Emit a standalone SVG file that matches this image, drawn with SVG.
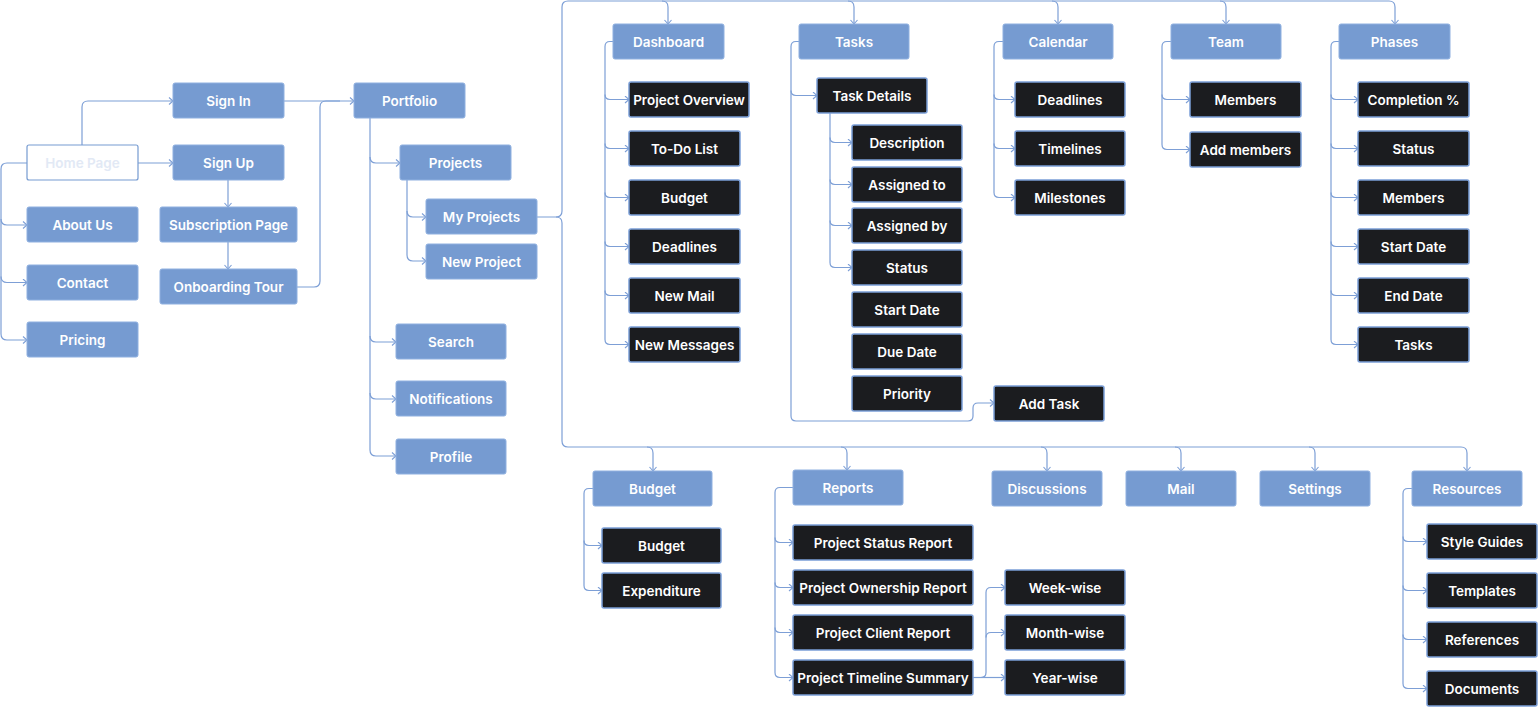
<svg xmlns="http://www.w3.org/2000/svg" width="1538" height="708" viewBox="0 0 1538 708">
<defs>
<style>
.p{fill:#769bd1;stroke:#8fb0e0;stroke-width:1}
.d{fill:#1b1c1f;stroke:#7b9fd8;stroke-width:1.5}
.h{fill:#ffffff;stroke:#769bd1;stroke-width:1.2}
text{font-family:Inter,"Noto Sans","Liberation Sans",sans-serif;font-size:13.5px;font-weight:600;fill:#ffffff;text-anchor:middle;dominant-baseline:central}
.ht{fill:#e2e9f5}
.c path{fill:none;stroke:#7d9fd6;stroke-width:1.2}
.a{marker-end:url(#ar)}
</style>
<marker id="ar" markerWidth="8" markerHeight="10" refX="5" refY="4" orient="auto" markerUnits="userSpaceOnUse">
<path d="M1,0.5 L5,4 L1,7.5" fill="none" stroke="#7d9fd6" stroke-width="1.1"/>
</marker>
</defs>
<rect width="1538" height="708" fill="#ffffff"/>
<g id="connectors" class="c">
<path class="a" d="M82,145 V107 Q82,101 88,101 H173"/>
<path class="a" d="M138,163 H173"/>
<path class="a" d="M27,163 H7 Q1,163 1,169 V334 Q1,340 7,340 H27"/>
<path class="a" d="M1,219 Q1,225 7,225 H27"/>
<path class="a" d="M1,276.5 Q1,282.5 7,282.5 H27"/>
<path class="a" d="M228,180 V207"/>
<path class="a" d="M228,242 V269"/>
<path class="a" d="M284,101 H354"/>
<path d="M297,287 H314 Q320,287 320,281 V107 Q320,101 326,101 H340"/>
<path class="a" d="M370,118 V450 Q370,456 376,456 H396"/>
<path class="a" d="M370,157 Q370,163 376,163 H400"/>
<path class="a" d="M370,336 Q370,342 376,342 H396"/>
<path class="a" d="M370,393 Q370,399 376,399 H396"/>
<path class="a" d="M407,180 V255 Q407,261 413,261 H426"/>
<path class="a" d="M407,211 Q407,217 413,217 H426"/>
<path class="a" d="M537,217 H556 Q562,217 562,211 V7 Q562,1 568,1 H1389 Q1395,1 1395,7 V24"/>
<path class="a" d="M662,1 Q668,1 668,7 V24"/>
<path class="a" d="M848,1 Q854,1 854,7 V24"/>
<path class="a" d="M1052,1 Q1058,1 1058,7 V24"/>
<path class="a" d="M1220,1 Q1226,1 1226,7 V24"/>
<path class="a" d="M556,217 Q562,217 562,223 V441 Q562,447 568,447 H1461 Q1467,447 1467,453 V471"/>
<path class="a" d="M647,447 Q653,447 653,453 V471"/>
<path class="a" d="M841,447 Q847,447 847,453 V470"/>
<path class="a" d="M1041,447 Q1047,447 1047,453 V471"/>
<path class="a" d="M1175,447 Q1181,447 1181,453 V471"/>
<path class="a" d="M1309,447 Q1315,447 1315,453 V471"/>
<path class="a" d="M613,41.5 H610 Q605,41.5 605,46.5 V339.5 Q605,344.5 610,344.5 H629"/>
<path class="a" d="M605,94.5 Q605,99.5 610,99.5 H629"/>
<path class="a" d="M605,143.5 Q605,148.5 610,148.5 H629"/>
<path class="a" d="M605,192.5 Q605,197.5 610,197.5 H629"/>
<path class="a" d="M605,241.5 Q605,246.5 610,246.5 H629"/>
<path class="a" d="M605,290.5 Q605,295.5 610,295.5 H629"/>
<path class="a" d="M799,41.5 H796 Q791,41.5 791,46.5 V416 Q791,421 796,421 H968 Q973,421 973,416 V408 Q973,403 978,403 H994"/>
<path class="a" d="M791,90.5 Q791,95.5 796,95.5 H817"/>
<path class="a" d="M830,113 V262.5 Q830,267.5 835,267.5 H852"/>
<path class="a" d="M830,137.5 Q830,142.5 835,142.5 H852"/>
<path class="a" d="M830,179.5 Q830,184.5 835,184.5 H852"/>
<path class="a" d="M830,220.5 Q830,225.5 835,225.5 H852"/>
<path class="a" d="M1003,41.5 H999 Q994,41.5 994,46.5 V192.5 Q994,197.5 999,197.5 H1015"/>
<path class="a" d="M994,94.5 Q994,99.5 999,99.5 H1015"/>
<path class="a" d="M994,143.5 Q994,148.5 999,148.5 H1015"/>
<path class="a" d="M1171,41.5 H1167 Q1162,41.5 1162,46.5 V144.5 Q1162,149.5 1167,149.5 H1190"/>
<path class="a" d="M1162,94.5 Q1162,99.5 1167,99.5 H1190"/>
<path class="a" d="M1339,41.5 H1336 Q1331,41.5 1331,46.5 V339.5 Q1331,344.5 1336,344.5 H1358"/>
<path class="a" d="M1331,94.5 Q1331,99.5 1336,99.5 H1358"/>
<path class="a" d="M1331,143.5 Q1331,148.5 1336,148.5 H1358"/>
<path class="a" d="M1331,192.5 Q1331,197.5 1336,197.5 H1358"/>
<path class="a" d="M1331,241.5 Q1331,246.5 1336,246.5 H1358"/>
<path class="a" d="M1331,290.5 Q1331,295.5 1336,295.5 H1358"/>
<path class="a" d="M593,488.5 H589 Q584,488.5 584,493.5 V585.5 Q584,590.5 589,590.5 H602"/>
<path class="a" d="M584,540.5 Q584,545.5 589,545.5 H602"/>
<path class="a" d="M793,487.5 H780 Q775,487.5 775,492.5 V672.5 Q775,677.5 780,677.5 H793"/>
<path class="a" d="M775,537.5 Q775,542.5 780,542.5 H793"/>
<path class="a" d="M775,582.5 Q775,587.5 780,587.5 H793"/>
<path class="a" d="M775,627.5 Q775,632.5 780,632.5 H793"/>
<path class="a" d="M973,677.5 H1005"/>
<path class="a" d="M981,677.5 Q986,677.5 986,672.5 V592.5 Q986,587.5 991,587.5 H1005"/>
<path class="a" d="M986,637.5 Q986,632.5 991,632.5 H1005"/>
<path class="a" d="M1412,488.5 H1408 Q1403,488.5 1403,493.5 V683.5 Q1403,688.5 1408,688.5 H1427"/>
<path class="a" d="M1403,536.5 Q1403,541.5 1408,541.5 H1427"/>
<path class="a" d="M1403,585.5 Q1403,590.5 1408,590.5 H1427"/>
<path class="a" d="M1403,634.5 Q1403,639.5 1408,639.5 H1427"/>
</g>
<g id="home-page"><rect class="h" x="27" y="145" width="111" height="35" rx="2"/><text class="ht" x="82.5" y="163">Home Page</text></g>
<g id="sign-in"><rect class="p" x="173" y="83" width="111" height="35" rx="2"/><text x="228.5" y="101">Sign In</text></g>
<g id="sign-up"><rect class="p" x="173" y="145" width="111" height="35" rx="2"/><text x="228.5" y="163">Sign Up</text></g>
<g id="about-us"><rect class="p" x="27" y="207" width="111" height="35" rx="2"/><text x="82.5" y="225">About Us</text></g>
<g id="contact"><rect class="p" x="27" y="265" width="111" height="35" rx="2"/><text x="82.5" y="283">Contact</text></g>
<g id="pricing"><rect class="p" x="27" y="322" width="111" height="35" rx="2"/><text x="82.5" y="340">Pricing</text></g>
<g id="subscription-page"><rect class="p" x="160" y="207" width="137" height="35" rx="2"/><text x="228.5" y="225">Subscription Page</text></g>
<g id="onboarding-tour"><rect class="p" x="160" y="269" width="137" height="35" rx="2"/><text x="228.5" y="287">Onboarding Tour</text></g>
<g id="portfolio"><rect class="p" x="354" y="83" width="111" height="35" rx="2"/><text x="409.5" y="101">Portfolio</text></g>
<g id="projects"><rect class="p" x="400" y="145" width="111" height="35" rx="2"/><text x="455.5" y="163">Projects</text></g>
<g id="my-projects"><rect class="p" x="426" y="199" width="111" height="35" rx="2"/><text x="481.5" y="217">My Projects</text></g>
<g id="new-project"><rect class="p" x="426" y="244" width="111" height="35" rx="2"/><text x="481.5" y="262">New Project</text></g>
<g id="search"><rect class="p" x="396" y="324" width="110" height="35" rx="2"/><text x="451" y="342">Search</text></g>
<g id="notifications"><rect class="p" x="396" y="381" width="110" height="35" rx="2"/><text x="451" y="399">Notifications</text></g>
<g id="profile"><rect class="p" x="396" y="439" width="110" height="35" rx="2"/><text x="451" y="457">Profile</text></g>
<g id="dashboard"><rect class="p" x="613" y="24" width="111" height="35" rx="2"/><text x="668.5" y="42">Dashboard</text></g>
<g id="project-overview"><rect class="d" x="629" y="82" width="120" height="35" rx="2"/><text x="689" y="100">Project Overview</text></g>
<g id="todo-list"><rect class="d" x="629" y="131" width="111" height="35" rx="2"/><text x="684.5" y="149">To-Do List</text></g>
<g id="dash-budget"><rect class="d" x="629" y="180" width="111" height="35" rx="2"/><text x="684.5" y="198">Budget</text></g>
<g id="dash-deadlines"><rect class="d" x="629" y="229" width="111" height="35" rx="2"/><text x="684.5" y="247">Deadlines</text></g>
<g id="new-mail"><rect class="d" x="629" y="278" width="111" height="35" rx="2"/><text x="684.5" y="296">New Mail</text></g>
<g id="new-messages"><rect class="d" x="629" y="327" width="111" height="35" rx="2"/><text x="684.5" y="345">New Messages</text></g>
<g id="tasks"><rect class="p" x="799" y="24" width="110" height="35" rx="2"/><text x="854" y="42">Tasks</text></g>
<g id="task-details"><rect class="d" x="817" y="78" width="110" height="35" rx="2"/><text x="872" y="96">Task Details</text></g>
<g id="description"><rect class="d" x="852" y="125" width="110" height="35" rx="2"/><text x="907" y="143">Description</text></g>
<g id="assigned-to"><rect class="d" x="852" y="167" width="110" height="35" rx="2"/><text x="907" y="185">Assigned to</text></g>
<g id="assigned-by"><rect class="d" x="852" y="208" width="110" height="35" rx="2"/><text x="907" y="226">Assigned by</text></g>
<g id="task-status"><rect class="d" x="852" y="250" width="110" height="35" rx="2"/><text x="907" y="268">Status</text></g>
<g id="task-start-date"><rect class="d" x="852" y="292" width="110" height="35" rx="2"/><text x="907" y="310">Start Date</text></g>
<g id="due-date"><rect class="d" x="852" y="334" width="110" height="35" rx="2"/><text x="907" y="352">Due Date</text></g>
<g id="priority"><rect class="d" x="852" y="376" width="110" height="35" rx="2"/><text x="907" y="394">Priority</text></g>
<g id="add-task"><rect class="d" x="994" y="386" width="110" height="35" rx="2"/><text x="1049" y="404">Add Task</text></g>
<g id="calendar"><rect class="p" x="1003" y="24" width="110" height="35" rx="2"/><text x="1058" y="42">Calendar</text></g>
<g id="cal-deadlines"><rect class="d" x="1015" y="82" width="110" height="35" rx="2"/><text x="1070" y="100">Deadlines</text></g>
<g id="timelines"><rect class="d" x="1015" y="131" width="110" height="35" rx="2"/><text x="1070" y="149">Timelines</text></g>
<g id="milestones"><rect class="d" x="1015" y="180" width="110" height="35" rx="2"/><text x="1070" y="198">Milestones</text></g>
<g id="team"><rect class="p" x="1171" y="24" width="110" height="35" rx="2"/><text x="1226" y="42">Team</text></g>
<g id="team-members"><rect class="d" x="1190" y="82" width="111" height="35" rx="2"/><text x="1245.5" y="100">Members</text></g>
<g id="add-members"><rect class="d" x="1190" y="132" width="111" height="35" rx="2"/><text x="1245.5" y="150">Add members</text></g>
<g id="phases"><rect class="p" x="1339" y="24" width="111" height="35" rx="2"/><text x="1394.5" y="42">Phases</text></g>
<g id="completion"><rect class="d" x="1358" y="82" width="111" height="35" rx="2"/><text x="1413.5" y="100">Completion %</text></g>
<g id="phase-status"><rect class="d" x="1358" y="131" width="111" height="35" rx="2"/><text x="1413.5" y="149">Status</text></g>
<g id="phase-members"><rect class="d" x="1358" y="180" width="111" height="35" rx="2"/><text x="1413.5" y="198">Members</text></g>
<g id="phase-start-date"><rect class="d" x="1358" y="229" width="111" height="35" rx="2"/><text x="1413.5" y="247">Start Date</text></g>
<g id="phase-end-date"><rect class="d" x="1358" y="278" width="111" height="35" rx="2"/><text x="1413.5" y="296">End Date</text></g>
<g id="phase-tasks"><rect class="d" x="1358" y="327" width="111" height="35" rx="2"/><text x="1413.5" y="345">Tasks</text></g>
<g id="budget"><rect class="p" x="593" y="471" width="119" height="35" rx="2"/><text x="652.5" y="489">Budget</text></g>
<g id="budget-budget"><rect class="d" x="602" y="528" width="119" height="35" rx="2"/><text x="661.5" y="546">Budget</text></g>
<g id="expenditure"><rect class="d" x="602" y="573" width="119" height="35" rx="2"/><text x="661.5" y="591">Expenditure</text></g>
<g id="reports"><rect class="p" x="793" y="470" width="110" height="35" rx="2"/><text x="848" y="488">Reports</text></g>
<g id="status-report"><rect class="d" x="793" y="525" width="180" height="35" rx="2"/><text x="883" y="543">Project Status Report</text></g>
<g id="ownership-report"><rect class="d" x="793" y="570" width="180" height="35" rx="2"/><text x="883" y="588">Project Ownership Report</text></g>
<g id="client-report"><rect class="d" x="793" y="615" width="180" height="35" rx="2"/><text x="883" y="633">Project Client Report</text></g>
<g id="timeline-summary"><rect class="d" x="793" y="660" width="180" height="35" rx="2"/><text x="883" y="678">Project Timeline Summary</text></g>
<g id="week-wise"><rect class="d" x="1005" y="570" width="120" height="35" rx="2"/><text x="1065" y="588">Week-wise</text></g>
<g id="month-wise"><rect class="d" x="1005" y="615" width="120" height="35" rx="2"/><text x="1065" y="633">Month-wise</text></g>
<g id="year-wise"><rect class="d" x="1005" y="660" width="120" height="35" rx="2"/><text x="1065" y="678">Year-wise</text></g>
<g id="discussions"><rect class="p" x="992" y="471" width="110" height="35" rx="2"/><text x="1047" y="489">Discussions</text></g>
<g id="mail"><rect class="p" x="1126" y="471" width="110" height="35" rx="2"/><text x="1181" y="489">Mail</text></g>
<g id="settings"><rect class="p" x="1260" y="471" width="110" height="35" rx="2"/><text x="1315" y="489">Settings</text></g>
<g id="resources"><rect class="p" x="1412" y="471" width="110" height="35" rx="2"/><text x="1467" y="489">Resources</text></g>
<g id="style-guides"><rect class="d" x="1427" y="524" width="110" height="35" rx="2"/><text x="1482" y="542">Style Guides</text></g>
<g id="templates"><rect class="d" x="1427" y="573" width="110" height="35" rx="2"/><text x="1482" y="591">Templates</text></g>
<g id="references"><rect class="d" x="1427" y="622" width="110" height="35" rx="2"/><text x="1482" y="640">References</text></g>
<g id="documents"><rect class="d" x="1427" y="671" width="110" height="35" rx="2"/><text x="1482" y="689">Documents</text></g>
</svg>
